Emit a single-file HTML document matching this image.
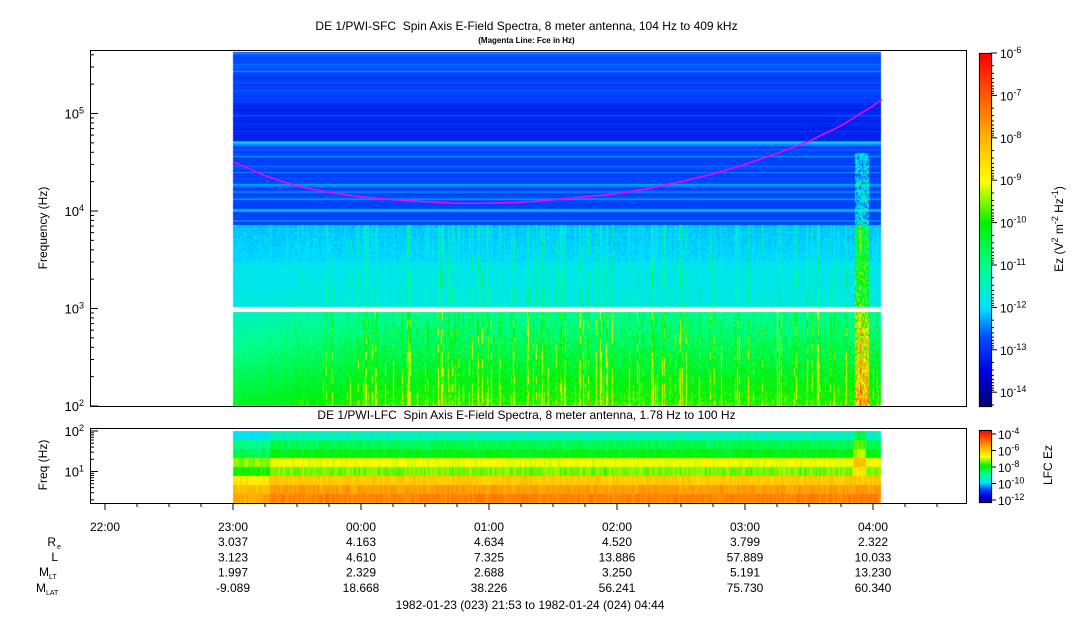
<!DOCTYPE html>
<html><head><meta charset="utf-8">
<style>
body{margin:0;background:#fff;width:1083px;height:620px;overflow:hidden;font-family:"Liberation Sans",sans-serif;color:#000}
#wrap{position:relative;width:1083px;height:620px}
.t{position:absolute;font-size:12px;white-space:nowrap;line-height:1}
canvas,svg{position:absolute;left:0;top:0}
</style></head><body>
<div id="wrap">
<canvas id="cv" width="1083" height="620"></canvas>
<svg id="sv" width="1083" height="620"></svg>
<div class="t" style="left:0;width:1053px;text-align:center;top:20px">DE 1/PWI-SFC &nbsp;Spin Axis E-Field Spectra, 8 meter antenna, 104 Hz to 409 kHz</div>
<div class="t" style="left:0;width:1053px;text-align:center;top:37px;font-size:8px;font-weight:bold">(Magenta Line: Fce in Hz)</div>
<div class="t" style="left:0;width:1053px;text-align:center;top:409px">DE 1/PWI-LFC &nbsp;Spin Axis E-Field Spectra, 8 meter antenna, 1.78 Hz to 100 Hz</div>
<div class="t" style="left:-7px;top:222px;transform:rotate(-90deg);width:100px;text-align:center">Frequency (Hz)</div>
<div class="t" style="left:-7px;top:459px;transform:rotate(-90deg);width:100px;text-align:center">Freq (Hz)</div>
<div class="t" style="left:988px;top:222px;transform:rotate(-90deg);width:140px;text-align:center">Ez (V<sup style="font-size:9px">2</sup> m<sup style="font-size:9px">-2</sup> Hz<sup style="font-size:9px">-1</sup>)</div>
<div class="t" style="left:1008px;top:459px;transform:rotate(-90deg);width:80px;text-align:center">LFC Ez</div>
</div>
<script>
// ---- data ----
const timeTicks=["22:00","23:00","00:00","01:00","02:00","03:00","04:00"];
const tickHours=[-2,-1,0,1,2,3,4];
const reVals=["3.037","4.163","4.634","4.520","3.799","2.322"];
const lVals=["3.123","4.610","7.325","13.886","57.889","10.033"];
const mltVals=["1.997","2.329","2.688","3.250","5.191","13.230"];
const mlatVals=["-9.089","18.668","38.226","56.241","75.730","60.340"];
const fceHours=[-1,-0.75,-0.5,-0.25,0,0.25,0.5,0.75,1,1.25,1.5,1.75,2,2.25,2.5,2.75,3,3.25,3.5,3.75,4,4.07];
const fceVals=[3.2e4,2.3e4,1.8e4,1.55e4,1.4e4,1.3e4,1.25e4,1.2e4,1.2e4,1.23e4,1.3e4,1.4e4,1.5e4,1.7e4,2e4,2.4e4,3e4,3.9e4,5.2e4,7.5e4,1.2e5,1.4e5];
const sfcBandFreq=[1000,3000,7200,47000,53000,130000,250000];
const sfcBandLevel=[-12.0,-12.15,-12.8,-12.3,-13.2,-12.85,-12.75];
const sfcLineFreq=[18500,10200,8000,95000,75000];
const sfcLineLevel=[-12.35,-12.35,-12.5,-12.85,-12.95];
const lfcRowLevel=[-9.2,-8.4,-8.0,-6.9,-7.4,-6.2,-5.7,-5.4];
// ---- axes ----
const HPX=128,H0x=361;
const xT=h=>H0x+h*HPX;
const yS=f=>406-(Math.log10(f)-2)*97.5;
const DX0=Math.round(xT(-1)),DX1=881;
function cmap(v){
 const st=[[0,0,0,110],[0.1,0,0,225],[0.2,0,80,255],[0.28,0,225,255],[0.4,0,255,140],[0.52,0,240,0],[0.64,255,255,0],[0.76,255,180,0],[1,255,0,0]];
 v=Math.max(0,Math.min(1,v));
 for(let i=1;i<st.length;i++)if(v<=st[i][0]){const a=st[i-1],b=st[i],t=(v-a[0])/(b[0]-a[0]);return[a[1]+t*(b[1]-a[1]),a[2]+t*(b[2]-a[2]),a[3]+t*(b[3]-a[3])];}
 return[255,0,0];
}
function hs(a,b){let h=(a*374761393+b*668265263)|0;h=(h^(h>>>13))*1274126177|0;return((h^(h>>>16))>>>0)/4294967296;}
const cv=document.getElementById('cv'),ctx=cv.getContext('2d');
const img=ctx.createImageData(1083,620),d=img.data;
function put(x,y,c){const i=(y*1083+x)*4;d[i]=c[0];d[i+1]=c[1];d[i+2]=c[2];d[i+3]=255;}
function bandAt(f){let k=0;for(let i=0;i<sfcBandFreq.length;i++)if(f>=sfcBandFreq[i])k=i;let l=sfcBandLevel[k];
 for(let i=0;i<sfcLineFreq.length;i++)if(Math.abs(Math.log10(f/sfcLineFreq[i]))<0.012)l=sfcLineLevel[i];return l;}
const norm=l=>(l+14.35)/8.35;
for(let x=DX0;x<DX1;x++){
 const col=hs(x,7),act=Math.min(1,(x-DX0)/150);
 const streak=col>0.72?(col-0.72)*5*act:0;
 const hot=(x>=855&&x<=868)?1:0;
 for(let y=52;y<406;y++){
  if(y>=307&&y<312)continue;
  const f=Math.pow(10,2+(406-y)/97.5);
  let l;
  if(f>=7200){l=bandAt(f)+(hs(y,3)-0.5)*0.3;if(hs(y,9)>0.88)l+=0.35;
    if(hot&&f<40000)l+=hs(x,y>>1)*1.4;}
  else if(f>=1000){l=bandAt(f)+(y-225)*0.003+streak*1.1*hs(x,y>>4)+(hs(x,y>>1)-0.5)*0.2;
    if(hot)l+=0.9+hs(x,y>>1)*1.5;}
  else{l=-11.2+(y-312)*0.013+streak*1.6*hs(x,y>>3)+(hs(x,y>>1)-0.3)*0.6*act;
    if(x<DX0+150)l-=0.3*(1-act);
    if(hot)l+=0.8+hs(x,y>>1)*1.8;}
  put(x,y,cmap(norm(l)));
 }
 for(let r=0;r<lfcRowLevel.length;r++){
  const y0=431+r*9;
  const lv=lfcRowLevel[r]+(hs(x,r+50)-0.5)*0.45+(x<270?-0.4:0)+(x>=853&&x<866&&r<5?0.8:0);
  for(let y=y0;y<y0+9&&y<503;y++)put(x,y,cmap((lv+12)/8));
 }
}
for(let y=53;y<407;y++){const c=cmap((407-y)/354);for(let x=979;x<992;x++)put(x,y,c);}
for(let y=430;y<503;y++){const c=cmap((503-y)/73);for(let x=979;x<992;x++)put(x,y,c);}
ctx.putImageData(img,0,0);
const NS="http://www.w3.org/2000/svg",sv=document.getElementById('sv');
function el(t,a,p){const e=document.createElementNS(NS,t);for(const k in a)e.setAttribute(k,a[k]);(p||sv).appendChild(e);return e;}
function txt(x,y,s,anchor,size,name,sup){const e=el('text',{x:x,y:y,'text-anchor':anchor||'middle','font-size':size||12,'font-family':'Liberation Sans, sans-serif'});e.textContent=s;
 if(sup){const t=el('tspan',{'font-size':9,dy:-5},e);t.textContent=sup;}
 
 return e;}
let pts=fceHours.map((h,i)=>xT(h).toFixed(1)+","+yS(fceVals[i]).toFixed(1)).join(" ");
const fl=el('polyline',{points:pts,fill:'none',stroke:'#ff00ff','stroke-width':1.5});


const b1=el('rect',{x:90.5,y:50.5,width:876,height:356,fill:'none',stroke:'#000'});


const b2=el('rect',{x:90.5,y:428.5,width:876,height:75,fill:'none',stroke:'#000'});


el('rect',{x:979.5,y:53.5,width:12,height:353,fill:'none',stroke:'#000'});
el('rect',{x:979.5,y:430.5,width:12,height:72,fill:'none',stroke:'#000'});
const yL=f=>431+(2-Math.log10(f))*40.5;
for(let e=2;e<=5;e++){const y=yS(Math.pow(10,e));el('line',{x1:90,x2:98,y1:y,y2:y,stroke:'#000'});txt(84,y+5,'10','end',13,'sfc-y-tick-label',String(e));
 for(let m=2;m<10;m++){const yy=yS(m*Math.pow(10,e));if(yy>50)el('line',{x1:90,x2:94,y1:yy,y2:yy,stroke:'#000'});}}
for(let e=1;e<=2;e++){const y=yL(Math.pow(10,e));el('line',{x1:90,x2:98,y1:y,y2:y,stroke:'#000'});txt(84,y+5,'10','end',13,'lfc-y-tick-label',String(e));}
[2,3,4,5,6,7,8,9,20,30,40,50,60,70,80,90].forEach(f=>{const y=yL(f);if(y<503)el('line',{x1:90,x2:94,y1:y,y2:y,stroke:'#000'});});
for(let e=6;e<=14;e++){const y=53+(e-6)*42.4;el('line',{x1:991,x2:997,y1:y,y2:y,stroke:'#000'});txt(1000,y+5,'10','start',12,'colorbar-tick-label','-'+e);
 for(let m=2;m<10;m++){const yy=y+42.4*Math.log10(m);if(yy<407)el('line',{x1:991,x2:994,y1:yy,y2:yy,stroke:'#000'});}}
[4,6,8,10,12].forEach((e,i)=>{const y=434+i*16.5;el('line',{x1:991,x2:996,y1:y,y2:y,stroke:'#000'});txt(998,y+5,'10','start',12,'lfc-colorbar-tick-label','-'+e);});
for(let q=-9;q<=19;q++){const x=xT(q/4);if(x<91||x>966)continue;el('line',{x1:x,x2:x,y1:503,y2:q%4==0?510:507,stroke:'#000'});}
tickHours.forEach((h,i)=>txt(xT(h),531,timeTicks[i],'middle',12,'time-tick-label'));
[reVals,lVals,mltVals,mlatVals].forEach((vals,r)=>{vals.forEach((v,i)=>txt(xT(i-1),546+r*15.3,v,'middle',12,'ephemeris-value'));});
txt(56,546,'R','end',12,'re-label');txt(57,549,'e','start',7,'re-sub');
txt(58,561,'L','end',12,'l-label');
txt(49,576,'M','end',12,'mlt-label');txt(49,579,'LT','start',7,'mlt-sub');
txt(46,592,'M','end',12,'mlat-label');txt(46,595,'LAT','start',7,'mlat-sub');
txt(530,609,'1982-01-23 (023) 21:53 to 1982-01-24 (024) 04:44','middle',12,'time-range-label');
</script>
</body></html>
